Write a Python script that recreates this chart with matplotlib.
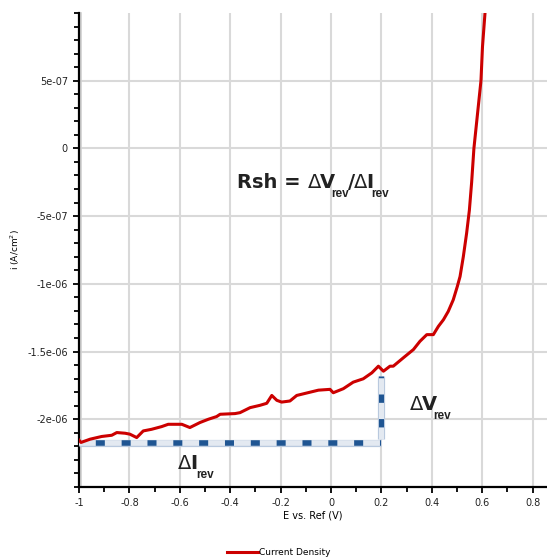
import matplotlib
matplotlib.use("Agg")
import matplotlib.pyplot as plt
import matplotlib.patheffects as pe
from matplotlib.ticker import FixedLocator, MultipleLocator

plt.rcParams['font.family'] = ['DejaVu Sans']
plt.rcParams['axes.unicode_minus'] = False
plt.rcParams['lines.scale_dashes'] = False

# potential (V) and current density (1e-6 A/cm2)
e_volts = [-1.0, -0.992, -0.956, -0.910, -0.870, -0.850, -0.817, -0.798, -0.771, -0.745,
           -0.712, -0.672, -0.646, -0.592, -0.560, -0.520, -0.487, -0.454, -0.440, -0.381,
           -0.361, -0.321, -0.282, -0.255, -0.235, -0.215, -0.196, -0.163, -0.136, -0.103,
           -0.050, -0.004, 0.009, 0.049, 0.088, 0.128, 0.162, 0.188, 0.208, 0.234,
           0.247, 0.287, 0.327, 0.353, 0.380, 0.406, 0.426, 0.446, 0.465, 0.485,
           0.501, 0.512, 0.525, 0.538, 0.549, 0.558, 0.567, 0.581, 0.595, 0.601, 0.611]
i_micro = [-2.154, -2.171, -2.147, -2.127, -2.118, -2.098, -2.103, -2.110, -2.135, -2.086,
           -2.074, -2.054, -2.037, -2.037, -2.061, -2.024, -2.000, -1.980, -1.963, -1.958,
           -1.951, -1.914, -1.897, -1.882, -1.824, -1.860, -1.873, -1.865, -1.824, -1.809,
           -1.785, -1.779, -1.804, -1.774, -1.726, -1.701, -1.657, -1.608, -1.645, -1.608,
           -1.608, -1.546, -1.485, -1.424, -1.375, -1.375, -1.314, -1.265, -1.204, -1.118,
           -1.020, -0.946, -0.799, -0.627, -0.456, -0.250, 0.0, 0.250, 0.500, 0.750, 1.000]
current = [v * 1e-6 for v in i_micro]

x_ticks = [-1, -0.8, -0.6, -0.4, -0.2, 0, 0.2, 0.4, 0.6, 0.8]
x_labels = ['-1', '-0.8', '-0.6', '-0.4', '-0.2', '0', '0.2', '0.4', '0.6', '0.8']
y_ticks = [5e-7, 0, -5e-7, -1e-6, -1.5e-6, -2e-6]
y_labels = ['5e-07', '0', '-5e-07', '-1e-06', '-1.5e-06', '-2e-06']

# Rsh construction lines
dI_x = [-1.0, 0.199]
dI_y = [-2.173e-6, -2.173e-6]
dV_x = [0.198, 0.198]
dV_y = [-1.682e-6, -2.147e-6]

fig = plt.figure(figsize=(5.47, 5.59), dpi=100)
ax = fig.add_axes([0.1444, 0.1288, 0.8556, 0.848])

ax.set_xlim(-1, 0.857)
ax.set_ylim(-2.5e-6, 1e-6)

ax.xaxis.set_major_locator(FixedLocator(x_ticks))
ax.set_xticklabels(x_labels)
ax.xaxis.set_minor_locator(MultipleLocator(0.1))
ax.yaxis.set_major_locator(FixedLocator(y_ticks))
ax.set_yticklabels(y_labels)
ax.yaxis.set_minor_locator(MultipleLocator(1e-7))

ax.grid(True, which='major', color='#d9d9d9', linewidth=1.5)
ax.set_axisbelow(True)
for s in ['top', 'right']:
    ax.spines[s].set_visible(False)
for s in ['left', 'bottom']:
    ax.spines[s].set_linewidth(1.6)
    ax.spines[s].set_color('black')
ax.tick_params(which='both', direction='out', width=1.3, colors='black',
               labelsize=7, labelcolor='#222222')
ax.tick_params(which='major', length=4.5)
ax.tick_params(which='minor', length=3.5)

# light shadow next to the left spine
ax.plot([0.005, 0.005], [0, 1], transform=ax.transAxes, color='#d0d0d0',
        linewidth=1.2, clip_on=False, zorder=1)

ax.set_xlabel('E vs. Ref (V)', fontsize=7, labelpad=2)
ax.set_ylabel('i (A/cm$^2$)', fontsize=6.5, labelpad=4)

# construction bars
bar_fx = [pe.Stroke(linewidth=5.2, foreground='#b9c9de'), pe.Normal()]
ax.plot(dI_x, dI_y, color='#e3e9f1', linewidth=4, solid_capstyle='butt',
        path_effects=bar_fx, zorder=3)
ax.plot(dV_x, dV_y, color='#e3e9f1', linewidth=3.6, solid_capstyle='butt',
        path_effects=bar_fx, zorder=3)
ax.plot(dI_x, dI_y, color='#1f5592', linewidth=4, solid_capstyle='butt',
        linestyle=(6.5, (6.5, 12.1)), zorder=4)
ax.plot(dV_x, dV_y[::-1], color='#1f5592', linewidth=3.6, solid_capstyle='butt',
        linestyle=(9.0, (6.0, 11.7)), zorder=4)

ax.plot(e_volts, current, color='#cc0000', linewidth=2.2, label='Current Density', zorder=5)

fig.legend(loc='center', bbox_to_anchor=(0.51, 0.012), frameon=False, fontsize=6.5,
           handlelength=3.4, handletextpad=0.2)

# annotation text, laid out piece by piece (main glyphs bold, delta thin, small subscript)
renderer = fig.canvas.get_renderer()
MAIN = dict(fontsize=14, fontweight='bold', family='DejaVu Sans')
DELTA = dict(fontsize=14, fontweight='normal', family='DejaVu Sans')
SUB = dict(fontsize=8.5, fontweight='bold', family='Liberation Sans')


def rich_text(x, y, pieces):
    px, py = ax.transData.transform((x, y))
    for txt, style, dx, dy in pieces:
        px += dx
        t = fig.text(px, py + dy, txt, transform=None, color='#222222',
                     ha='left', va='baseline', **style)
        px += t.get_window_extent(renderer).width


rich_text(-0.373, -0.289e-6, [('Rsh = ', MAIN, 0, 0), ('Δ', DELTA, 0, 0), ('V', MAIN, -1, 0),
                              ('rev', SUB, -4, -9), ('/', MAIN, -1, 0), ('Δ', DELTA, -1, 0),
                              ('I', MAIN, -1, 0), ('rev', SUB, -2, -9)])
rich_text(0.313, -1.932e-6, [('Δ', DELTA, 0, 0), ('V', MAIN, -1, 0), ('rev', SUB, -4, -9)])
rich_text(-0.606, -2.368e-6, [('Δ', DELTA, 0, 0), ('I', MAIN, -1, 0), ('rev', SUB, -2, -9)])

fig.savefig('out.png', dpi=100)
